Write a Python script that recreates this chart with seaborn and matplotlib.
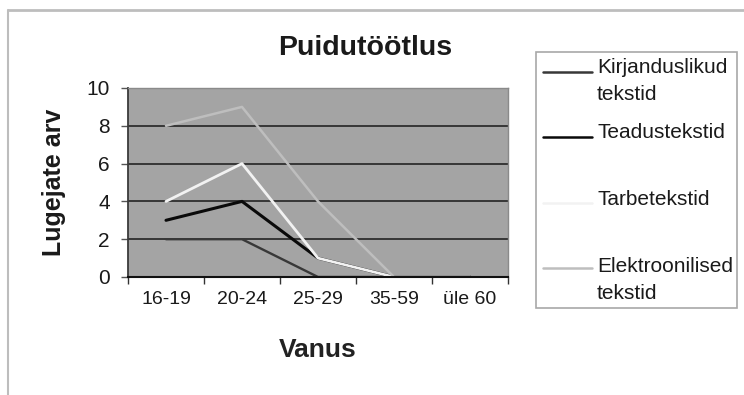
import matplotlib
matplotlib.use("Agg")
import matplotlib.pyplot as plt
from matplotlib.lines import Line2D
from matplotlib.patches import Rectangle
import numpy as np
import pandas as pd
import seaborn as sns

# Age groups and reader counts per text type
age_groups = ["16-19", "20-24", "25-29", "35-59", "üle 60"]
kirjanduslikud = [2, 2, 0, 0, 0]
teadustekstid = [3, 4, 1, 0, 0]
tarbetekstid = [4, 6, 1, 0, 0]
elektroonilised = [8, 9, 4, 0, 0]

series_names = ["Kirjanduslikud tekstid", "Teadustekstid", "Tarbetekstid",
                "Elektroonilised tekstid"]
legend_labels = ["Kirjanduslikud\ntekstid", "Teadustekstid", "Tarbetekstid",
                 "Elektroonilised\ntekstid"]
y_ticks = [0, 2, 4, 6, 8, 10]

colors = ["#383838", "#0a0a0a", "#f2f2f2", "#bebebe"]
widths = [1.7, 2.2, 2.0, 1.8]

rows = []
for name, vals in zip(series_names,
                      [kirjanduslikud, teadustekstid, tarbetekstid, elektroonilised]):
    for age, v in zip(age_groups, vals):
        rows.append({"Vanus": age, "Lugejate arv": v, "Tekst": name})
df = pd.DataFrame(rows)
df["Vanus"] = pd.Categorical(df["Vanus"], categories=age_groups, ordered=True)
df["pos"] = df["Vanus"].cat.codes

sns.set_style("white")
plt.rcParams["font.family"] = ["Liberation Sans", "DejaVu Sans"]

W, H = 744, 395
fig = plt.figure(figsize=(W / 100, H / 100), dpi=100)
fig.patch.set_facecolor("white")

def fx(px):
    return px / W

def fy(py):
    return 1 - py / H

# outer chart frame (top and left edges)
fig.add_artist(Line2D([fx(8), fx(744)], [fy(10), fy(10)], color="#bdbdbd", lw=2))
fig.add_artist(Line2D([fx(8), fx(8)], [fy(10), fy(395)], color="#bdbdbd", lw=1.5))

ax = fig.add_axes([fx(128), fy(277), fx(508) - fx(128), fy(88) - fy(277)])
ax.set_facecolor("#a4a4a4")

for y in y_ticks[1:-1]:
    ax.axhline(y, color="#2e2e2e", lw=1.3, zorder=1)

for name, c, w in zip(series_names, colors, widths):
    sns.lineplot(data=df[df["Tekst"] == name], x="pos", y="Lugejate arv",
                 color=c, lw=w, legend=False, ax=ax, zorder=3, sort=False)

ax.set_xlim(-0.5, len(age_groups) - 0.5)
ax.set_ylim(0, 10)
ax.set_yticks(y_ticks)
ax.set_yticklabels([str(t) for t in y_ticks], fontsize=15, color="#1a1a1a")

# tick marks between categories, labels at category centres
ax.set_xticks(np.arange(len(age_groups) + 1) - 0.5)
ax.set_xticklabels([])
ax.set_xticks(np.arange(len(age_groups)), minor=True)
ax.set_xticklabels(age_groups, minor=True, fontsize=14, color="#1a1a1a")
ax.tick_params(axis="x", which="major", direction="out", length=5, width=1,
               color="#333333", bottom=True)
ax.tick_params(axis="x", which="minor", length=0, pad=10, bottom=True)
ax.tick_params(axis="y", direction="out", length=5, width=1, color="#555555",
               pad=8, left=True)

ax.set_xlabel("Vanus", fontsize=19, fontweight="bold", color="#222222", labelpad=22)
ax.set_ylabel("Lugejate arv", fontsize=18, fontweight="bold", color="#1a1a1a",
              labelpad=15)

for side, c, w in [("left", "#3a3a3a", 1.3), ("bottom", "#111111", 1.5),
                   ("top", "#8a8a8a", 1.0), ("right", "#8a8a8a", 1.0)]:
    ax.spines[side].set_visible(True)
    ax.spines[side].set_color(c)
    ax.spines[side].set_linewidth(w)
    ax.spines[side].set_zorder(5)

fig.text(fx(365), fy(48), "Puidutöötlus", fontsize=20.5, fontweight="bold",
         color="#1a1a1a", ha="center", va="center")

# legend box
fig.add_artist(Rectangle((fx(536), fy(308)), fx(737) - fx(536), fy(52) - fy(308),
                         transform=fig.transFigure, facecolor="white",
                         edgecolor="#a8a8a8", lw=1.2))
legend_rows = [(72, 58), (137, 123), (203, 190), (268, 257)]
for (ly, ty), lab, c in zip(legend_rows, legend_labels, colors):
    fig.add_artist(Line2D([fx(543), fx(592)], [fy(ly), fy(ly)], color=c, lw=1.8))
    fig.text(fx(597), fy(ty), lab, fontsize=15, color="#1a1a1a", ha="left",
             va="top", linespacing=1.55)

fig.savefig("out.png", dpi=100)
